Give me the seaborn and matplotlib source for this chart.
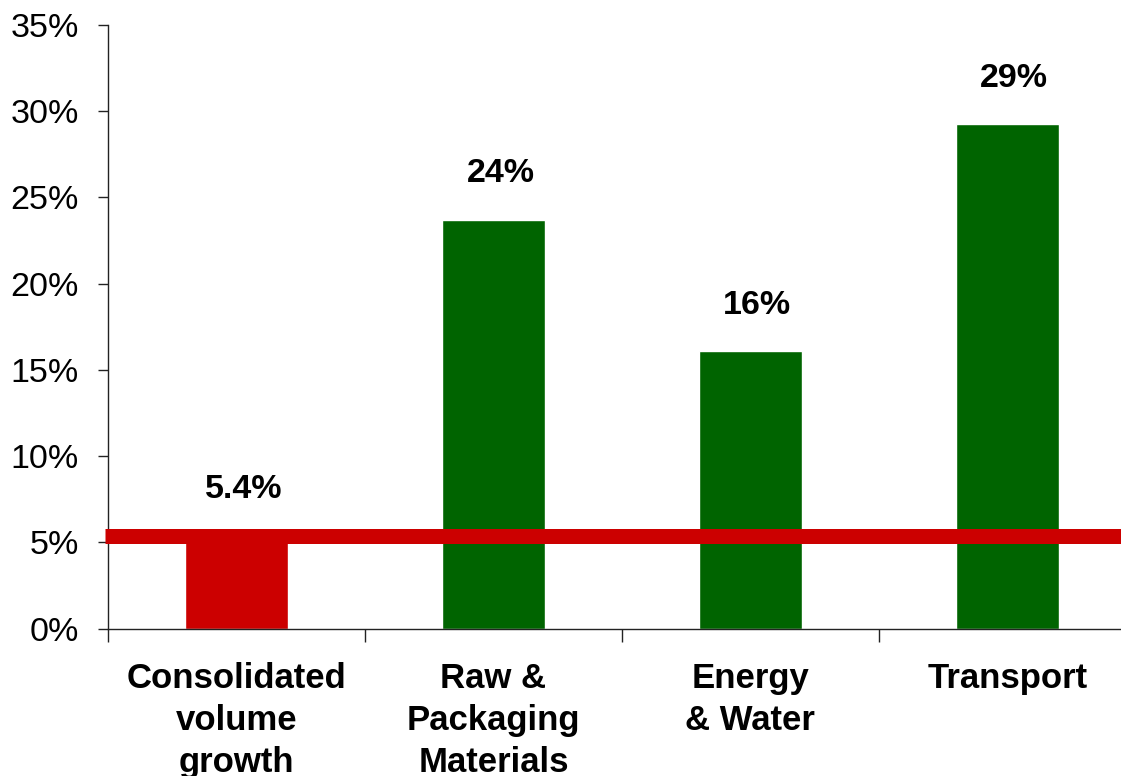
import seaborn as sns
import matplotlib.pyplot as plt
from matplotlib.ticker import FixedLocator, NullFormatter

# Data
categories = ['Consolidated\nvolume\ngrowth', 'Raw &\nPackaging\nMaterials', 'Energy\n& Water', 'Transport']
values = [5.4, 23.7, 16.1, 29.25]
labels = ['5.4%', '24%', '16%', '29%']
bar_colors = ['#CC0000', '#006400', '#006400', '#006400']
benchmark = 5.4

sns.set_style('ticks')
plt.rcParams['font.family'] = ['Liberation Sans', 'DejaVu Sans']
plt.rcParams['text.color'] = 'black'
plt.rcParams['xtick.color'] = 'black'
plt.rcParams['ytick.color'] = 'black'

fig = plt.figure(figsize=(11.21, 7.76), dpi=100)
ax = fig.add_axes([0.0963, 0.1898, 0.917, 0.778])

sns.barplot(x=categories, y=values, hue=categories, palette=bar_colors,
            width=0.4, legend=False, saturation=1, ax=ax)

# benchmark line (volume growth)
ax.axhline(benchmark, xmin=-0.003, xmax=1, color='#CC0000', lw=10.8,
           solid_capstyle='butt', clip_on=False, zorder=5)

# value labels
for i, (v, t) in enumerate(zip(values, labels)):
    ax.annotate(t, xy=(i, v), xytext=(5, 27), textcoords='offset points',
                ha='center', va='baseline', fontsize=24.5, fontweight='bold')

ax.set_ylim(0, 35)
ax.set_xlim(-0.5, 3.5)
ax.set_yticks(range(0, 36, 5))
ax.set_yticklabels([f'{t}%' for t in range(0, 36, 5)])
ax.tick_params(axis='y', labelsize=24.5, length=7, width=1, pad=14, color='#222222')

# category ticks between groups, labels centered
ax.xaxis.set_major_locator(FixedLocator([-0.5, 0.5, 1.5, 2.5, 3.5]))
ax.xaxis.set_major_formatter(NullFormatter())
ax.xaxis.set_minor_locator(FixedLocator([0, 1, 2, 3]))
ax.set_xticklabels(categories, minor=True, fontsize=25, fontweight='bold')
for lbl in ax.get_xticklabels(minor=True):
    lbl.set_linespacing(1.35)
ax.tick_params(axis='x', which='major', length=9, width=1, color='#222222')
ax.tick_params(axis='x', which='minor', length=0, pad=24)

sns.despine(ax=ax)
for s in ['left', 'bottom']:
    ax.spines[s].set_color('#222222')
    ax.spines[s].set_linewidth(1)

fig.savefig('out.png', dpi=100)
